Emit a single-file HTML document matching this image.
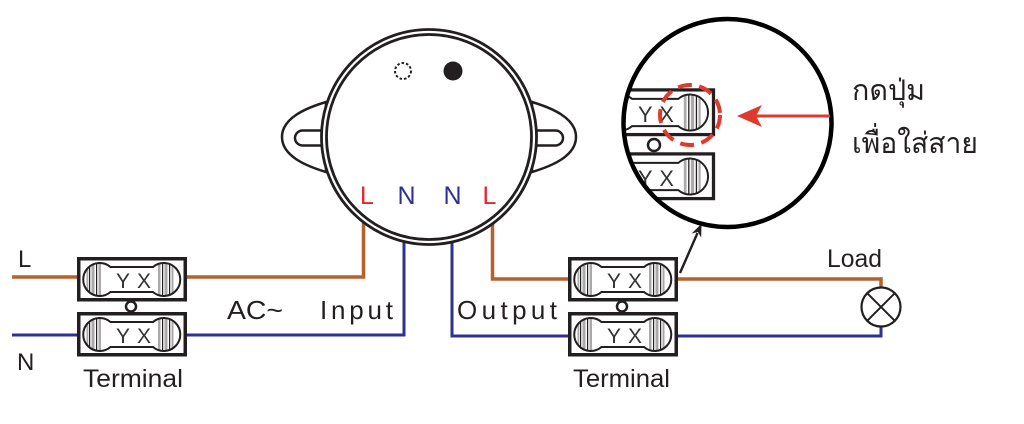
<!DOCTYPE html>
<html><head><meta charset="utf-8"><style>
html,body{margin:0;padding:0;background:#fff;}
svg{display:block;}
text{font-family:"Liberation Sans",sans-serif;}
</style></head><body>
<svg width="1024" height="424" viewBox="0 0 1024 424" xmlns="http://www.w3.org/2000/svg">
<defs>
<clipPath id="lobeL"><circle cx="22" cy="22.5" r="16.5"/></clipPath>
<clipPath id="lobeR"><circle cx="87.5" cy="22.5" r="16.5"/></clipPath>
<clipPath id="bigclip"><circle cx="727.5" cy="123" r="102"/></clipPath>
</defs>
<rect width="1024" height="424" fill="#fff"/>

<!-- wires brown -->
<g fill="none" stroke="#b5612b" stroke-width="3.5">
<line x1="12" y1="277" x2="80" y2="277"/>
<polyline points="185,277 363.5,277 363.5,215"/>
<polyline points="492.5,215 492.5,279 570,279"/>
<polyline points="676,279 881,279 881,290"/>
</g>
<!-- wires blue -->
<g fill="none" stroke="#2e3192" stroke-width="3">
<line x1="12" y1="335" x2="80" y2="335"/>
<polyline points="185,335 404,335 404,215"/>
<polyline points="452,215 452,336 570,336"/>
<polyline points="676,336 881,336 881,325"/>
</g>

<!-- ears -->
<g stroke="#231f20" stroke-width="2.5" fill="#fff">
<path d="M326,102 C306,108 282,118 282,137 C282,156 306,166 326,172 Z"/>
<rect x="295" y="130.5" width="40" height="15" rx="7.5"/>
<path d="M532,102 C552,108 576,118 576,137 C576,156 552,166 532,172 Z"/>
<rect x="523" y="130.5" width="40" height="15" rx="7.5"/>
</g>
<!-- main circle -->
<circle cx="429" cy="137" r="107.5" fill="#fff" stroke="#231f20" stroke-width="2.8"/>
<circle cx="429" cy="137" r="102.5" fill="none" stroke="#231f20" stroke-width="2.8"/>
<circle cx="403" cy="71" r="8" fill="none" stroke="#231f20" stroke-width="2" stroke-dasharray="2.5,2"/>
<circle cx="453" cy="71" r="9.5" fill="#231f20"/>
<g font-size="25" text-anchor="middle">
<text x="367" y="204" fill="#e8232e">L</text>
<text x="406.5" y="204" fill="#2e3192">N</text>
<text x="452.5" y="204" fill="#2e3192">N</text>
<text x="489.5" y="204" fill="#e8232e">L</text>
</g>

<!-- Left terminal top -->
<g transform="translate(77,257)">
<rect x="1.75" y="1.75" width="106.5" height="41" fill="#fff" stroke="#231f20" stroke-width="3.5"/>
<g clip-path="url(#lobeL)"><rect x="9.5" y="0" width="1.8" height="45" fill="#aaa"/><rect x="12" y="0" width="1.2" height="45" fill="#231f20"/><rect x="14.5" y="0" width="3" height="45" fill="#aaa"/><rect x="19" y="0" width="1.2" height="45" fill="#231f20"/><rect x="21.5" y="0" width="2.5" height="45" fill="#aaa"/></g>
<g clip-path="url(#lobeR)"><rect x="81" y="0" width="2.5" height="45" fill="#aaa"/><rect x="85" y="0" width="1.2" height="45" fill="#231f20"/><rect x="87.5" y="0" width="3" height="45" fill="#aaa"/><rect x="92" y="0" width="1.2" height="45" fill="#231f20"/><rect x="94.5" y="0" width="2" height="45" fill="#aaa"/></g>
<path d="M33.5,10 A16.5,16.5 0 1,0 33.5,35 L76,35 A16.5,16.5 0 1,0 76,10 Z" fill="none" stroke="#231f20" stroke-width="2"/>
<text x="39" y="31" font-size="21" fill="#333" textLength="35" lengthAdjust="spacing">Y X</text>
</g>
<!-- Left terminal bottom -->
<g transform="translate(77,312)">
<rect x="1.75" y="1.75" width="106.5" height="41" fill="#fff" stroke="#231f20" stroke-width="3.5"/>
<g clip-path="url(#lobeL)"><rect x="9.5" y="0" width="1.8" height="45" fill="#aaa"/><rect x="12" y="0" width="1.2" height="45" fill="#231f20"/><rect x="14.5" y="0" width="3" height="45" fill="#aaa"/><rect x="19" y="0" width="1.2" height="45" fill="#231f20"/><rect x="21.5" y="0" width="2.5" height="45" fill="#aaa"/></g>
<g clip-path="url(#lobeR)"><rect x="81" y="0" width="2.5" height="45" fill="#aaa"/><rect x="85" y="0" width="1.2" height="45" fill="#231f20"/><rect x="87.5" y="0" width="3" height="45" fill="#aaa"/><rect x="92" y="0" width="1.2" height="45" fill="#231f20"/><rect x="94.5" y="0" width="2" height="45" fill="#aaa"/></g>
<path d="M33.5,10 A16.5,16.5 0 1,0 33.5,35 L76,35 A16.5,16.5 0 1,0 76,10 Z" fill="none" stroke="#231f20" stroke-width="2"/>
<text x="39" y="31" font-size="21" fill="#333" textLength="35" lengthAdjust="spacing">Y X</text>
</g>
<circle cx="131" cy="306.5" r="5" fill="#fff" stroke="#231f20" stroke-width="2.5"/>

<!-- Right terminal top -->
<g transform="translate(568,257)">
<rect x="1.75" y="1.75" width="106.5" height="41" fill="#fff" stroke="#231f20" stroke-width="3.5"/>
<g clip-path="url(#lobeL)"><rect x="9.5" y="0" width="1.8" height="45" fill="#aaa"/><rect x="12" y="0" width="1.2" height="45" fill="#231f20"/><rect x="14.5" y="0" width="3" height="45" fill="#aaa"/><rect x="19" y="0" width="1.2" height="45" fill="#231f20"/><rect x="21.5" y="0" width="2.5" height="45" fill="#aaa"/></g>
<g clip-path="url(#lobeR)"><rect x="81" y="0" width="2.5" height="45" fill="#aaa"/><rect x="85" y="0" width="1.2" height="45" fill="#231f20"/><rect x="87.5" y="0" width="3" height="45" fill="#aaa"/><rect x="92" y="0" width="1.2" height="45" fill="#231f20"/><rect x="94.5" y="0" width="2" height="45" fill="#aaa"/></g>
<path d="M33.5,10 A16.5,16.5 0 1,0 33.5,35 L76,35 A16.5,16.5 0 1,0 76,10 Z" fill="none" stroke="#231f20" stroke-width="2"/>
<text x="39" y="31" font-size="21" fill="#333" textLength="35" lengthAdjust="spacing">Y X</text>
</g>
<!-- Right terminal bottom -->
<g transform="translate(568,312)">
<rect x="1.75" y="1.75" width="106.5" height="41" fill="#fff" stroke="#231f20" stroke-width="3.5"/>
<g clip-path="url(#lobeL)"><rect x="9.5" y="0" width="1.8" height="45" fill="#aaa"/><rect x="12" y="0" width="1.2" height="45" fill="#231f20"/><rect x="14.5" y="0" width="3" height="45" fill="#aaa"/><rect x="19" y="0" width="1.2" height="45" fill="#231f20"/><rect x="21.5" y="0" width="2.5" height="45" fill="#aaa"/></g>
<g clip-path="url(#lobeR)"><rect x="81" y="0" width="2.5" height="45" fill="#aaa"/><rect x="85" y="0" width="1.2" height="45" fill="#231f20"/><rect x="87.5" y="0" width="3" height="45" fill="#aaa"/><rect x="92" y="0" width="1.2" height="45" fill="#231f20"/><rect x="94.5" y="0" width="2" height="45" fill="#aaa"/></g>
<path d="M33.5,10 A16.5,16.5 0 1,0 33.5,35 L76,35 A16.5,16.5 0 1,0 76,10 Z" fill="none" stroke="#231f20" stroke-width="2"/>
<text x="39" y="31" font-size="21" fill="#333" textLength="35" lengthAdjust="spacing">Y X</text>
</g>
<circle cx="622" cy="306.5" r="5" fill="#fff" stroke="#231f20" stroke-width="2.5"/>

<!-- Lamp -->
<circle cx="881" cy="307" r="19.5" fill="#fff" stroke="#231f20" stroke-width="2.2"/>
<line x1="867.2" y1="293.2" x2="894.8" y2="320.8" stroke="#231f20" stroke-width="2"/>
<line x1="894.8" y1="293.2" x2="867.2" y2="320.8" stroke="#231f20" stroke-width="2"/>

<!-- Labels -->
<g fill="#231f20">
<text x="18" y="267" font-size="24">L</text>
<text x="17" y="370" font-size="24">N</text>
<text x="227" y="319" font-size="26" textLength="56" lengthAdjust="spacingAndGlyphs">AC~</text>
<text x="320" y="319" font-size="26" textLength="73" lengthAdjust="spacing">Input</text>
<text x="457" y="319" font-size="26" textLength="100" lengthAdjust="spacing">Output</text>
<text x="83" y="387" font-size="25" textLength="100" lengthAdjust="spacingAndGlyphs">Terminal</text>
<text x="573" y="387" font-size="25" textLength="97" lengthAdjust="spacingAndGlyphs">Terminal</text>
<text x="827" y="267" font-size="25" textLength="55" lengthAdjust="spacingAndGlyphs">Load</text>
<text x="852" y="100" font-size="29" font-family="'Liberation Sans','Noto Sans Thai','Loma','Garuda','Norasi',sans-serif" textLength="73" lengthAdjust="spacingAndGlyphs">กดปุ่ม</text>
<text x="852" y="153" font-size="29" font-family="'Liberation Sans','Noto Sans Thai','Loma','Garuda','Norasi',sans-serif" textLength="126" lengthAdjust="spacingAndGlyphs">เพื่อใส่สาย</text>
</g>

<!-- black arrow -->
<line x1="680" y1="273" x2="697.5" y2="233" stroke="#231f20" stroke-width="2.4"/>
<path d="M701,225 L700.7,235.8 L698.2,231.4 L693.3,232.6 Z" fill="#231f20" stroke="#231f20" stroke-width="1"/>

<!-- big magnified circle -->
<circle cx="727.5" cy="123" r="104" fill="#fff" stroke="none"/>
<g clip-path="url(#bigclip)">
<g transform="translate(595.5,88) scale(1.09)">
<rect x="1.75" y="1.75" width="106.5" height="41" fill="#fff" stroke="#231f20" stroke-width="3"/>
<g clip-path="url(#lobeR)"><rect x="81" y="0" width="2.5" height="45" fill="#aaa"/><rect x="85" y="0" width="1.2" height="45" fill="#231f20"/><rect x="87.5" y="0" width="3" height="45" fill="#aaa"/><rect x="92" y="0" width="1.2" height="45" fill="#231f20"/><rect x="94.5" y="0" width="2" height="45" fill="#aaa"/></g>
<path d="M33.5,10 A16.5,16.5 0 1,0 33.5,35 L76,35 A16.5,16.5 0 1,0 76,10 Z" fill="none" stroke="#231f20" stroke-width="1.8"/>
<text x="39" y="31" font-size="20" fill="#333" textLength="33" lengthAdjust="spacing">Y X</text>
</g>
<g transform="translate(595.5,152) scale(1.09)">
<rect x="1.75" y="1.75" width="106.5" height="41" fill="#fff" stroke="#231f20" stroke-width="3"/>
<g clip-path="url(#lobeR)"><rect x="81" y="0" width="2.5" height="45" fill="#aaa"/><rect x="85" y="0" width="1.2" height="45" fill="#231f20"/><rect x="87.5" y="0" width="3" height="45" fill="#aaa"/><rect x="92" y="0" width="1.2" height="45" fill="#231f20"/><rect x="94.5" y="0" width="2" height="45" fill="#aaa"/></g>
<path d="M33.5,10 A16.5,16.5 0 1,0 33.5,35 L76,35 A16.5,16.5 0 1,0 76,10 Z" fill="none" stroke="#231f20" stroke-width="1.8"/>
<text x="39" y="31" font-size="20" fill="#333" textLength="33" lengthAdjust="spacing">Y X</text>
</g>
<circle cx="654" cy="145" r="6" fill="#fff" stroke="#231f20" stroke-width="2.5"/>
</g>
<circle cx="690" cy="115" r="30" fill="none" stroke="#e0392e" stroke-width="4" stroke-dasharray="14,7.5"/>
<circle cx="727.5" cy="123" r="104" fill="none" stroke="#000" stroke-width="4.5"/>

<!-- red arrow -->
<line x1="830" y1="116" x2="752" y2="116" stroke="#e0392e" stroke-width="3"/>
<path d="M737,116 L762,105 L756,116 L762,127 Z" fill="#e0392e"/>
</svg>
</body></html>
